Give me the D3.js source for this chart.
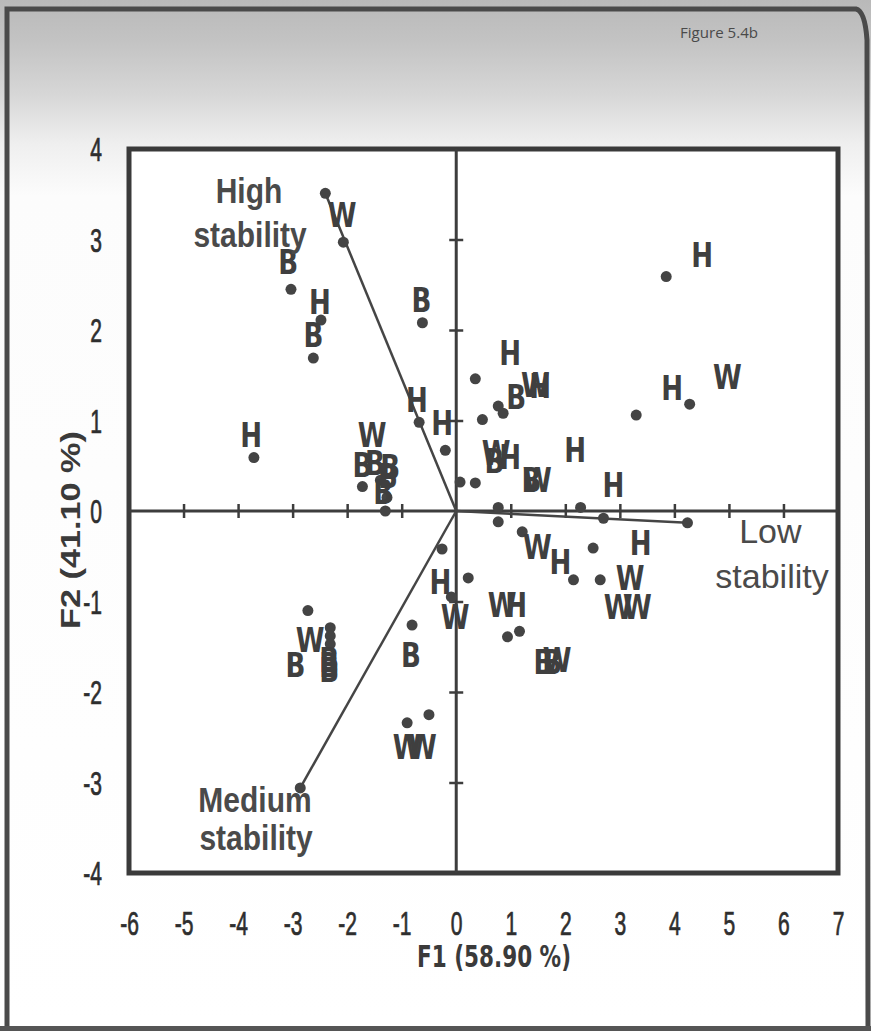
<!DOCTYPE html>
<html>
<head>
<meta charset="utf-8">
<script src="https://cdn.jsdelivr.net/npm/d3@7"></script>
<style>
  html, body { margin: 0; padding: 0; background: #fff; }
  svg { display: block; }
</style>
</head>
<body>
<svg id="chart" width="871" height="1031"></svg>
<script>
/* ---------- data ---------- */
const xTicks = [-6, -5, -4, -3, -2, -1, 0, 1, 2, 3, 4, 5, 6, 7];
const yTicks = [-4, -3, -2, -1, 0, 1, 2, 3, 4];

// observation dots, [F1, F2]
const obsPoints = [
  [-2.07, 2.97], [-3.03, 2.45], [-2.48, 2.11], [-2.62, 1.69], [-0.62, 2.08],
  [-0.68, 0.98], [-0.20, 0.67], [-3.71, 0.59], [-1.72, 0.27], [-1.39, 0.34],
  [-1.27, 0.15], [-1.30, 0.00], [3.85, 2.59], [0.35, 1.46], [0.77, 1.16],
  [0.86, 1.08], [0.48, 1.01], [4.28, 1.18], [3.30, 1.06], [0.07, 0.32],
  [0.35, 0.31], [0.77, 0.04], [2.28, 0.04], [0.77, -0.12], [2.70, -0.08],
  [1.21, -0.23], [2.51, -0.41], [2.15, -0.76], [2.64, -0.76], [0.22, -0.74],
  [0.94, -1.39], [1.16, -1.33], [-0.26, -0.42], [-0.09, -0.95], [-2.72, -1.10],
  [-2.31, -1.29], [-2.31, -1.38], [-2.31, -1.47], [-0.81, -1.26], [-0.90, -2.34],
  [-0.50, -2.25]
];

// observation labels, [F1, F2, text]
const obsLabels = [
  [-2.09, 3.27, 'W'], [-3.08, 2.75, 'B'], [-2.50, 2.31, 'H'], [-2.62, 1.94, 'B'],
  [-0.64, 2.33, 'B'], [-0.72, 1.23, 'H'], [-0.26, 0.97, 'H'], [-3.76, 0.84, 'H'],
  [-1.54, 0.84, 'W'], [-1.72, 0.51, 'B'], [-1.49, 0.53, 'B'], [-1.21, 0.49, 'B'],
  [-1.25, 0.39, 'B'], [-1.34, 0.21, 'B'], [4.51, 2.83, 'H'], [0.99, 1.75, 'H'],
  [1.10, 1.26, 'B'], [1.45, 1.39, 'W'], [1.54, 1.38, 'H'], [3.96, 1.36, 'H'],
  [4.97, 1.48, 'W'], [2.18, 0.67, 'H'], [0.70, 0.55, 'B'], [0.73, 0.64, 'W'],
  [0.99, 0.60, 'H'], [1.38, 0.34, 'B'], [1.49, 0.34, 'W'], [2.88, 0.29, 'H'],
  [1.49, -0.40, 'W'], [1.91, -0.56, 'H'], [3.38, -0.35, 'H'], [3.19, -0.74, 'W'],
  [2.97, -1.06, 'W'], [3.32, -1.06, 'W'], [0.84, -1.04, 'W'], [1.10, -1.04, 'H'],
  [1.60, -1.67, 'B'], [1.76, -1.67, 'B'], [1.85, -1.65, 'W'], [-0.29, -0.78, 'H'],
  [-0.02, -1.17, 'W'], [-2.68, -1.43, 'W'], [-2.95, -1.70, 'B'], [-2.33, -1.65, 'B'],
  [-2.33, -1.70, 'B'], [-2.33, -1.76, 'B'], [-0.83, -1.59, 'B'], [-0.90, -2.61, 'W'],
  [-0.62, -2.61, 'W']
];

// variable vectors (end points)
const vectorNames = ['High stability', 'Low stability', 'Medium stability'];
const vectorF1 = [-2.40, 4.24, -2.86];
const vectorF2 = [3.51, -0.13, -3.06];

// vector annotation lines, [F1, F2 (baseline), text, weight]
const vectorLabelLines = [
  [-3.80, 3.40, 'High', 'b'], [-3.78, 2.92, 'stability', 'b'],
  [5.76, -0.35, 'Low', 'r'], [5.79, -0.85, 'stability', 'r'],
  [-3.69, -3.33, 'Medium', 'b'], [-3.67, -3.75, 'stability', 'b']
];

const xTitle = 'F1 (58.90 %)';
const yTitle = 'F2 (41.10 %)';
const figTag = 'Figure 5.4b';

/* ---------- setup ---------- */
const W = 871, H = 1031;
const INK = '#3d3d3d';
const NARROW = '"Liberation Sans Narrow", "Arial Narrow", "DejaVu Sans Condensed", sans-serif';
const SANS = '"Liberation Sans", Arial, sans-serif';

const svg = d3.select('#chart');
const x = d3.scaleLinear().domain([-6, 7]).range([129, 838]);
const y = d3.scaleLinear().domain([-4, 4]).range([873, 149]);

// page background: photographed paper, grey at the top
const defs = svg.append('defs');
const grad = defs.append('linearGradient').attr('id', 'paper')
  .attr('x1', 0).attr('y1', 0).attr('x2', 0).attr('y2', 1);
[[0, '#b9b9b9'], [0.04, '#c3c3c3'], [0.09, '#d6d6d6'], [0.14, '#efefef'], [0.19, '#fcfcfc'], [1, '#ffffff']]
  .forEach(([o, c]) => grad.append('stop').attr('offset', o).attr('stop-color', c));

svg.append('rect').attr('width', W).attr('height', H).attr('fill', 'url(#paper)');

// outer frame of the printed figure
svg.append('path')
  .attr('d', 'M7,1031 L7,9 L856,9 Q865,11 867,40 L868,1031')
  .attr('fill', 'none').attr('stroke', '#4a4a4a').attr('stroke-width', 5);
svg.append('rect').attr('x', 0).attr('y', 1026).attr('width', W).attr('height', 5).attr('fill', '#555');

svg.append('text').attr('x', 680).attr('y', 38)
  .attr('font-family', '"Open Sans", sans-serif').attr('font-size', 14).attr('fill', '#4a4a4a')
  .attr('textLength', 78).attr('lengthAdjust', 'spacingAndGlyphs')
  .text(figTag);

// helper: stretched text (the print is condensed)
function stretched(g, px, py, str, opt) {
  const t = g.append('text')
    .attr('transform', `translate(${px},${py}) scale(${opt.sx || 1},${opt.sy || 1})`)
    .attr('text-anchor', opt.anchor || 'middle')
    .attr('font-family', opt.family || SANS)
    .attr('font-size', opt.size)
    .attr('font-weight', opt.weight || 'normal')
    .attr('fill', opt.fill || INK)
    .text(str);
  if (opt.dy) t.attr('dy', opt.dy);
  if (opt.len) t.attr('textLength', opt.len).attr('lengthAdjust', 'spacingAndGlyphs');
  return t;
}

/* ---------- plot frame ---------- */
svg.append('rect')
  .attr('x', x(-6)).attr('y', y(4))
  .attr('width', x(7) - x(-6)).attr('height', y(-4) - y(4))
  .attr('fill', '#fff').attr('stroke', '#3a3a3a').attr('stroke-width', 5);

// zero axes
svg.append('line').attr('x1', x(-6)).attr('x2', x(7)).attr('y1', y(0)).attr('y2', y(0))
  .attr('stroke', INK).attr('stroke-width', 3);
svg.append('line').attr('x1', x(0)).attr('x2', x(0)).attr('y1', y(4)).attr('y2', y(-4))
  .attr('stroke', INK).attr('stroke-width', 3);

// crossing ticks on the zero axes
const hTicks = svg.append('g').attr('transform', `translate(0,${y(0) - 7})`)
  .call(d3.axisBottom(x).tickValues(xTicks.filter(v => v > -6 && v < 7 && v !== 0)).tickSize(14).tickFormat(''));
const vTicks = svg.append('g').attr('transform', `translate(${x(0) + 7},0)`)
  .call(d3.axisLeft(y).tickValues(yTicks.filter(v => v > -4 && v < 4 && v !== 0)).tickSize(14).tickFormat(''));
[hTicks, vTicks].forEach(g => {
  g.select('.domain').remove();
  g.selectAll('line').attr('stroke', INK).attr('stroke-width', 2.5);
});

// outer tick labels (plain hyphen minus, condensed print)
const fmt = d => String(d);
const xAxis = svg.append('g').attr('transform', `translate(0,${y(-4)})`)
  .call(d3.axisBottom(x).tickValues(xTicks).tickSize(0).tickFormat(fmt));
xAxis.select('.domain').remove();
xAxis.selectAll('text')
  .attr('font-family', SANS).attr('font-size', 27).attr('fill', '#2e2e2e')
  .attr('stroke', '#2e2e2e').attr('stroke-width', 0.6)
  .attr('y', 0).attr('dy', 0)
  .attr('transform', 'translate(0,62) scale(0.78,1.22)');

const yAxis = svg.append('g').attr('transform', `translate(${x(-6)},0)`)
  .call(d3.axisLeft(y).tickValues(yTicks).tickSize(0).tickFormat(fmt));
yAxis.select('.domain').remove();
yAxis.selectAll('text')
  .attr('font-family', SANS).attr('font-size', 27).attr('fill', '#2e2e2e')
  .attr('stroke', '#2e2e2e').attr('stroke-width', 0.6)
  .attr('x', 0).attr('dy', '0.36em')
  .attr('transform', 'translate(-27,0) scale(0.78,1.22)');

// axis titles
stretched(svg, 494, 967, xTitle, { size: 27, weight: 'bold', family: NARROW, sy: 1.12, len: 154, fill: '#3a3a3a' });
svg.append('text')
  .attr('transform', 'translate(80,530) rotate(-90)')
  .attr('text-anchor', 'middle')
  .attr('font-family', SANS).attr('font-size', 27).attr('font-weight', 'bold')
  .attr('fill', '#3a3a3a').attr('textLength', 198).attr('lengthAdjust', 'spacingAndGlyphs')
  .text(yTitle);

/* ---------- vectors ---------- */
const vecG = svg.append('g');
vectorNames.forEach((n, i) => {
  vecG.append('line')
    .attr('x1', x(0)).attr('y1', y(0))
    .attr('x2', x(vectorF1[i])).attr('y2', y(vectorF2[i]))
    .attr('stroke', '#454545').attr('stroke-width', 2.5);
  vecG.append('circle')
    .attr('cx', x(vectorF1[i])).attr('cy', y(vectorF2[i])).attr('r', 5.5)
    .attr('fill', '#444');
});

/* ---------- observations ---------- */
svg.append('g').selectAll('circle').data(obsPoints).join('circle')
  .attr('cx', d => x(d[0])).attr('cy', d => y(d[1])).attr('r', 5.5)
  .attr('fill', '#444');

const labG = svg.append('g');
obsLabels.forEach(d => {
  stretched(labG, x(d[0]), y(d[1]), d[2],
    { size: 29, weight: 'bold', family: NARROW, sy: 1.15, dy: '0.36em', fill: '#3f3f3f' });
});

/* ---------- vector annotations ---------- */
const annG = svg.append('g');
vectorLabelLines.forEach(d => {
  if (d[3] === 'b') {
    stretched(annG, x(d[0]), y(d[1]), d[2], { size: 30, weight: 'bold', sy: 1.15, fill: '#4a4a4a' });
  } else {
    stretched(annG, x(d[0]), y(d[1]), d[2], { size: 34, weight: 'normal', sy: 1, fill: '#4a4a4a' });
  }
});
</script>
</body>
</html>
